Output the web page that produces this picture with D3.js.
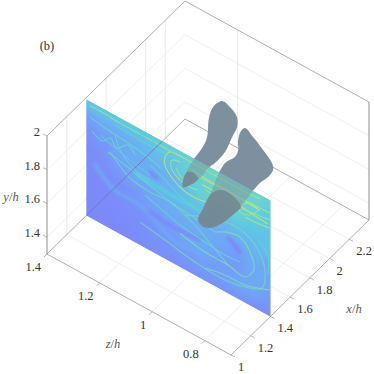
<!DOCTYPE html>
<html>
<head>
<meta charset="utf-8">
<script src="https://cdnjs.cloudflare.com/ajax/libs/d3/7.8.5/d3.min.js"></script>
<style>
html,body{margin:0;padding:0;background:#fff}
text{font-family:"Liberation Serif",serif;font-size:12.5px;fill:#333}
</style>
</head>
<body>
<div id="chart"></div>
<script>
// ticks on the three axes
const xTicks = [1,1.2,1.4,1.6,1.8,2,2.2]
const yTicks = [1.4,1.6,1.8,2]
const zTicks = [1.4,1.2,1,0.8]
// wall lines that show up in the picture
const xWallLines = [1.2,1.6,2,2.2]
const zWallLines = [1.2]
const xFloorLines = [1.2,1.4,1.6,1.8,2,2.2]
const zFloorLines = [1.2,1,0.8]
const slicePlane = 1.4
const sliceTop = 1.988

// coarse background of the slice, rows from top to bottom, 0 violet .. 1 yellow
const fieldZ = [1.4,1.336,1.273,1.209,1.145,1.082,1.018,0.955,0.891,0.827,0.764,0.7]
const fieldY = [1.988,1.89,1.792,1.694,1.595,1.497,1.399,1.3]
const fieldRows = [
	[.5,.5,.5,.5,.5,.55,.55,.6,.6,.6,.6,.55],
	[.25,.3,.32,.35,.4,.45,.55,.55,.6,.6,.55,.5],
	[.12,.2,.3,.32,.32,.36,.45,.55,.55,.55,.5,.45],
	[.08,.12,.22,.32,.32,.36,.4,.4,.36,.4,.4,.45],
	[.08,.08,.12,.18,.28,.32,.32,.32,.3,.25,.35,.3],
	[.06,.08,.1,.12,.15,.22,.32,.32,.25,.2,.3,.3],
	[.06,.06,.08,.1,.15,.15,.2,.25,.25,.3,.3,.2],
	[.06,.06,.06,.08,.1,.12,.15,.15,.15,.15,.12,.1]
]

// filaments in the slice, [z,y]
const topStreak = [[1.386,1.961],[1.348,1.964],[1.272,1.957],[1.196,1.957],[1.12,1.957],[1.082,1.954]]
const rollOuter = [[1.044,1.957],[1.082,1.948],[1.101,1.902],[1.101,1.854],[1.082,1.812],[1.044,1.773],[1.006,1.758],[.968,1.761],[.93,1.776]]
const rollInner = [[1.044,1.921],[1.074,1.907],[1.078,1.862],[1.052,1.82],[1.014,1.805],[.976,1.814]]
const rollCore = [[1.059,1.873],[1.036,1.834],[1.006,1.847]]
const upperStripe = [[1.006,1.915],[.93,1.905],[.85,1.905],[.74,1.895]]
const middleStripe = [[.96,1.86],[.9,1.86],[.85,1.865],[.78,1.85],[.71,1.84]]
const edgeStripe = [[1.044,1.957],[.968,1.957],[.892,1.956],[.816,1.956],[.74,1.962]]
const bandUpper = [[.987,1.893],[.892,1.897],[.816,1.903],[.702,1.912]]
const bandLower = [[.949,1.837],[.873,1.843],[.778,1.853],[.702,1.87]]
const feather = [[1.379,1.819],[1.337,1.795],[1.31,1.836],[1.284,1.799],[1.242,1.853],[1.215,1.816]]
const featherLong = [[1.291,1.869],[1.272,1.797],[1.215,1.727],[1.158,1.717]]
const upperArc = [[1.386,1.895],[1.329,1.879],[1.253,1.867],[1.177,1.849],[1.12,1.827]]
const upperThin = [[1.291,1.929],[1.196,1.921],[1.101,1.926]]
const midThin = [[1.348,1.821],[1.234,1.77],[1.158,1.747]]
const longBand = [[1.31,1.753],[1.234,1.664],[1.158,1.646],[1.082,1.652],[.995,1.602],[.918,1.525],[.861,1.467]]
const crossBand = [[1.158,1.806],[1.101,1.765],[1.006,1.699],[.911,1.68]]
const wideBand = [[1.204,1.707],[1.139,1.703],[1.063,1.697],[.968,1.702],[.892,1.678]]
const faintArc = [[1.367,1.627],[1.291,1.543],[1.196,1.536],[1.055,1.43],[.956,1.457]]
const vortexOuter = [[1.025,1.623],[.93,1.687],[.835,1.721],[.759,1.674],[.721,1.558],[.732,1.441],[.778,1.402],[.873,1.368],[.987,1.377],[1.101,1.41],[1.196,1.435]]
const vortexMiddle = [[.911,1.62],[.865,1.659],[.816,1.672],[.77,1.592],[.763,1.522],[.797,1.451],[.861,1.467],[.949,1.469],[1.044,1.5]]
const vortexInner = [[.816,1.524],[.873,1.516],[.949,1.528],[1.044,1.548],[1.12,1.583],[1.177,1.612]]
const vortexTop = [[.911,1.62],[.987,1.638],[1.063,1.65],[1.158,1.685],[1.253,1.725],[1.318,1.745]]
const vortexRight = [[.747,1.713],[.71,1.656],[.71,1.537]]
const lowerStreak = [[.949,1.374],[.873,1.398],[.797,1.404],[.702,1.455]]
const smallLoop = [[.816,1.862],[.778,1.906],[.747,1.891],[.778,1.835],[.816,1.82],[.816,1.862]]
const rightStreak = [[.797,1.807],[.759,1.81],[.702,1.822]]
const eyeLeft = [[1.158,1.764],[1.131,1.752]]
const eyeRight = [[.861,1.632],[.816,1.583]]
const violetBand = [[1.158,1.525],[1.063,1.513],[.968,1.524]]

const thinLines = [[topStreak,.78],[rollOuter,.92],[rollInner,.85],[rollCore,.8],[upperStripe,1],[middleStripe,.95],[edgeStripe,.85],
	[bandUpper,.85],[bandLower,.8],[upperArc,.58],[upperThin,.55],[midThin,.5],[crossBand,.55],[longBand,.6],[featherLong,.55],
	[vortexOuter,.62],[vortexMiddle,.7],[vortexInner,.55],[vortexTop,.6],[vortexRight,.55],[lowerStreak,.7],[smallLoop,.85],[rightStreak,.9],[feather,.58]]
const softLines = [[wideBand,.5],[faintArc,.3],[eyeLeft,.04],[eyeRight,.02],[violetBand,.05]]

// blob outlines seen against the slice plane, [z,y]
const blobLeft = [[.884,2.42],[.854,2.41],[.827,2.373],[.827,2.314],[.842,2.254],[.873,2.127],[.911,2.029],[.937,1.977],[.957,1.919],[.987,1.851],[1.033,1.783],[1.021,1.876],[.994,1.975],[.96,2.076],[.941,2.157],[.934,2.277],[.918,2.356]]
const blobRight = [[.797,2.335],[.766,2.308],[.728,2.263],[.694,2.215],[.69,2.177],[.709,2.119],[.74,2.057],[.77,1.978],[.808,1.868],[.835,1.798],[.884,1.696],[.93,1.628],[.96,1.614],[.975,1.636],[.956,1.723],[.922,1.86],[.9,1.968],[.884,2.028],[.869,2.071],[.835,2.13],[.823,2.181],[.823,2.24],[.812,2.304]]
const capFront = [[.975,1.636],[.956,1.723],[.922,1.842],[.884,1.892],[.842,1.892],[.812,1.853],[.835,1.798],[.884,1.696],[.93,1.628],[.96,1.614]]
const capTip = [[1.033,1.783],[.987,1.851],[.975,1.885],[1.0,1.9],[1.021,1.876]]

const width = 374,height = 374
const xDomain = [1,2.4],yDomain = [1.3,2],zDomain = [1.4,0.7]

// each axis moves the point along one edge of the box
const xPx = d3.scaleLinear().domain(xDomain).range([0,138])
const xPy = d3.scaleLinear().domain(xDomain).range([0,-135])
const zPx = d3.scaleLinear().domain(zDomain).range([0,184])
const zPy = d3.scaleLinear().domain(zDomain).range([0,101])
const yPy = d3.scaleLinear().domain(yDomain).range([0,-118])
function project(x,y,z){
	return [47 + xPx(x) + zPx(z),254 + xPy(x) + zPy(z) + yPy(y)]
}

const color = d3.scaleLinear()
	.domain([0,.25,.5,.75,1])
	.range(['#7f82f8','#729ffb','#5ccde0','#8ce4a0','#dfe268'])
	.clamp(true)

const svg = d3.select('#chart').append('svg')
	.attr('width',width).attr('height',height)
	.style('display','block')

const defs = svg.append('defs')
defs.append('filter').attr('id','fieldBlur')
	.attr('filterUnits','userSpaceOnUse')
	.attr('x',0).attr('y',0).attr('width',width).attr('height',height)
	.append('feGaussianBlur').attr('stdDeviation',5)
defs.append('filter').attr('id','softBlur')
	.attr('filterUnits','userSpaceOnUse')
	.attr('x',0).attr('y',0).attr('width',width).attr('height',height)
	.append('feGaussianBlur').attr('stdDeviation',1.4)
const sliceCorners = [
	project(slicePlane,yDomain[0],zDomain[0]),
	project(slicePlane,sliceTop,zDomain[0]),
	project(slicePlane,sliceTop,zDomain[1]),
	project(slicePlane,yDomain[0],zDomain[1])]
defs.append('clipPath').attr('id','sliceClip')
	.append('polygon').attr('points',sliceCorners.join(' '))

function drawLine(parent,a,b,stroke,w){
	parent.append('line')
		.attr('x1',a[0]).attr('y1',a[1]).attr('x2',b[0]).attr('y2',b[1])
		.attr('stroke',stroke).attr('stroke-width',w)
}

// grid on floor and the two back walls
const grid = svg.append('g')
const gridColor = '#e6e6e6'
const xTop = xDomain[1],zBack = zDomain[0],zFront = zDomain[1],yLow = yDomain[0],yHigh = yDomain[1]
xFloorLines.forEach(x => drawLine(grid,project(x,yLow,zBack),project(x,yLow,zFront),gridColor,.7))
zFloorLines.forEach(z => drawLine(grid,project(xDomain[0],yLow,z),project(xTop,yLow,z),gridColor,.7))
xWallLines.forEach(x => drawLine(grid,project(x,yLow,zBack),project(x,yHigh,zBack),gridColor,.8))
zWallLines.forEach(z => drawLine(grid,project(xTop,yLow,z),project(xTop,yHigh,z),gridColor,.8))
yTicks.filter(y => y < 2).forEach(y => {
	drawLine(grid,project(xDomain[0],y,zBack),project(xTop,y,zBack),gridColor,.7)
	drawLine(grid,project(xTop,y,zBack),project(xTop,y,zFront),gridColor,.7)
})

// box edges
const edgeColor = '#9a9a9a'
const edges = svg.append('g')
drawLine(edges,project(xDomain[0],yLow,zBack),project(xDomain[0],yHigh,zBack),'#8d8d8d',1)
drawLine(edges,project(xTop,yLow,zFront),project(xTop,yHigh,zFront),'#8d8d8d',1)
drawLine(edges,project(xDomain[0],yHigh,zBack),project(xTop,yHigh,zBack),edgeColor,.8)
drawLine(edges,project(xTop,yHigh,zBack),project(xTop,yHigh,zFront),edgeColor,.8)
drawLine(edges,project(xTop,yLow,zBack),project(xTop,yLow,zFront),edgeColor,.8)
drawLine(edges,project(xDomain[0],yLow,zFront),project(xTop,yLow,zFront),edgeColor,.8)
drawLine(edges,project(xDomain[0],yLow,zBack),project(xDomain[0],yLow,zFront),edgeColor,.8)
drawLine(edges,project(xDomain[0],yLow,zBack),project(xTop,yLow,zBack),edgeColor,.8)

// blobs sit behind the slice
const blobColor = '#7d909f'
const blobPath = d3.line()
	.x(d => project(slicePlane,d[1],d[0])[0])
	.y(d => project(slicePlane,d[1],d[0])[1])
	.curve(d3.curveCatmullRomClosed)
const blobs = [blobLeft,blobRight]
svg.append('g').selectAll('path').data(blobs).enter().append('path')
	.attr('d',blobPath)
	.attr('fill',blobColor)

// the slice
const slice = svg.append('g').attr('clip-path','url(#sliceClip)')
slice.append('polygon').attr('points',sliceCorners.join(' ')).attr('fill',color(.12))
const cells = []
fieldRows.forEach((row,j) => row.forEach((v,i) => {
	const dz = (fieldZ[1] - fieldZ[0]) / 2,dy = (fieldY[1] - fieldY[0]) / 2
	const low = fieldY[j] - dy * (j === 0 ? 3 : 1),high = fieldY[j] + dy * (j === fieldRows.length - 1 ? 3 : 1)
	const left = fieldZ[i] - dz * (i === 0 ? 3 : 1),right = fieldZ[i] + dz * (i === row.length - 1 ? 3 : 1)
	cells.push({
		v:v,
		pts:[
			project(slicePlane,low,left),
			project(slicePlane,low,right),
			project(slicePlane,high,right),
			project(slicePlane,high,left)
		]
	})
}))
slice.append('g').attr('filter','url(#fieldBlur)')
	.selectAll('polygon').data(cells).enter().append('polygon')
	.attr('points',d => d.pts.join(' '))
	.attr('fill',d => color(d.v))

const filament = d3.line()
	.x(d => project(slicePlane,d[1],d[0])[0])
	.y(d => project(slicePlane,d[1],d[0])[1])
	.curve(d3.curveCatmullRom)
slice.append('g').attr('filter','url(#softBlur)')
	.selectAll('path').data(softLines).enter().append('path')
	.attr('d',d => filament(d[0]))
	.attr('fill','none')
	.attr('stroke',d => color(d[1]))
	.attr('stroke-width',3.5)
	.attr('stroke-linecap','round')
slice.append('g')
	.selectAll('path').data(thinLines).enter().append('path')
	.attr('d',d => filament(d[0]))
	.attr('fill','none')
	.attr('stroke',d => color(d[1]))
	.attr('stroke-width',1.1)
	.attr('stroke-opacity',.8)

// blob showing through the slice, then the parts in front of it
slice.append('g').selectAll('path').data(blobs).enter().append('path')
	.attr('d',blobPath)
	.attr('fill',blobColor)
	.attr('fill-opacity',.5)
slice.append('g').selectAll('path').data([capFront,capTip]).enter().append('path')
	.attr('d',blobPath)
	.attr('fill','#73848f')
	.attr('fill-opacity',.82)

// floor edge is still seen through the slice
svg.append('g').attr('clip-path','url(#sliceClip)')
	.call(g => drawLine(g,project(xDomain[0],yLow,zBack),project(xTop,yLow,zBack),'#6a78b0',.8))

// ticks and labels
const ticks = svg.append('g')
const labels = svg.append('g')
yTicks.forEach(y => {
	const p = project(xDomain[0],y,zBack)
	drawLine(ticks,p,[p[0] - 4,p[1] - 2],edgeColor,.7)
	labels.append('text').attr('x',p[0] - 7).attr('y',p[1]).attr('text-anchor','end').text(y)
})
zTicks.forEach(z => {
	const p = project(xDomain[0],yLow,z)
	drawLine(ticks,p,[p[0] - 3,p[1] + 3],edgeColor,.7)
	labels.append('text').attr('x',p[0] - 6).attr('y',p[1] + 17).attr('text-anchor','end').text(z)
})
xTicks.forEach(x => {
	const p = project(x,yLow,zFront)
	drawLine(ticks,p,[p[0] + 4,p[1] + 2],edgeColor,.7)
	labels.append('text').attr('x',p[0] + 7).attr('y',p[1] + 16).text(x)
})

function mathLabel(px,py,v){
	const t = labels.append('text').attr('x',px).attr('y',py).attr('text-anchor','middle').style('fill','#555')
	t.append('tspan').style('font-style','italic').text(v)
	t.append('tspan').text('/')
	t.append('tspan').style('font-style','italic').text('h')
}
mathLabel(11,201,'y')
mathLabel(113,348,'z')
mathLabel(354,313,'x')
labels.append('text').attr('x',47).attr('y',50).attr('text-anchor','middle').text('(b)')
</script>
</body>
</html>
